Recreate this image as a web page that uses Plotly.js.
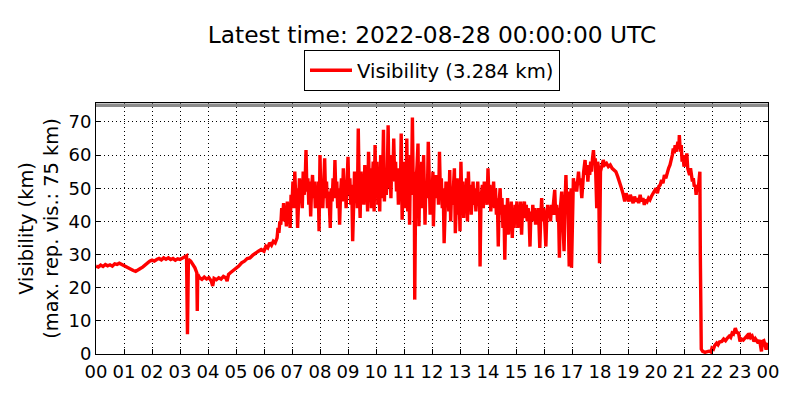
<!DOCTYPE html>
<html>
<head>
<meta charset="utf-8">
<script src="https://cdn.plot.ly/plotly-3.0.1.min.js"></script>
<style>
  html, body { margin: 0; padding: 0; background: #fff; }
  #chart { width: 800px; height: 400px; }
</style>
</head>
<body>
<div id="chart"></div>
<script>
// [minute of day, visibility km]
var nightToMorning = [
    [0,26.5],[5,26.2],[10,26.8],[15,26.4],[20,27.0],[25,26.6],[30,26.9],[35,26.5],[40,27.2],[45,27.0],
    [50,27.4],[55,27.0],[60,26.8],[65,26.3],[70,26.0],[75,25.6],[80,25.2],[85,24.9],[90,25.5],[95,25.8],
    [100,26.2],[105,26.8],[110,27.5],[115,28.0],[120,28.3],[125,28.0],[130,28.5],[135,28.8],[140,28.4],
    [145,29.0],[150,28.6],[155,29.0],[160,28.5],[165,28.8],[170,28.3],[175,28.7],[180,28.5],[185,28.9],
    [190,29.2],[194,29.6],[196,6.0],[198,28.5],[203,28.0],[208,27.0],[212,26.0],[216,24.5],[217,13.0],
    [218,24.0],[222,23.0],[227,22.5],[232,23.2],[237,22.6],[242,23.0],[247,22.0],[250,20.5],[253,22.8],
    [258,22.4],[263,23.0],[268,22.6],[273,23.4],[278,23.0],[281,22.0],[284,24.0],[288,24.5],[293,25.0],
    [298,25.5],[303,26.0],[306,26.5],[312,27.5],[318,28.0],[324,28.8],[330,29.0],[336,29.8],[342,30.5],
    [348,31.0],[354,31.5],[360,31.0],[364,32.5],[368,32.0],[372,33.5],[376,32.8],[380,34.0],[384,33.5],
    [388,35.0]
];

var morningNoisy = [
    [390,38],[392,36.5],[394,40],[396,39],[398,44],[400,41],[402,45.5],[404,40],[406,43],[408,38.5],
    [410,46],[412,41],[414,44],[416,38],[418,48],[420,45],[422,52],[424,44],[426,55],[428,47],[430,50],
    [432,38],[434,48],[436,53],[438,47],[440,49],[442,44],[444,55],[446,48],[448,51],[450,61.5],[452,49],
    [454,53],[456,45],[458,52],[460,41.5],[462,50],[464,54],[466,47],[468,52],[470,44],[472,50],[474,45],
    [476,52],[478,37],[480,60],[482,46],[484,52],[486,44],[488,50],[490,59],[492,47],[494,52],[496,44],
    [498,49],[500,45],[502,38],[504,50],[506,46],[508,53],[510,47],[512,58.5],[514,48],[516,52],[518,44],
    [520,50],[522,39],[524,48],[526,53],[528,46],[530,56],[532,47],[534,52],[536,44],[538,50],[540,59.5],
    [542,48],[544,53],[546,45],[548,51],[550,34],[552,47],[554,55],[556,46],[558,52],[560,44],[562,68],
    [564,50],[566,41],[568,55],[570,47],[572,53],[574,45],[576,57],[578,48],[580,54],[582,43],[584,61],
    [586,49],[588,56],[590,44],[592,52],[594,58],[596,43],[598,63]
];

var middayNoisy = [
    [600,48],[602,58],[604,45],[606,55],[608,43],[610,60],[612,47],[614,52],[616,67.6],[618,46],[620,56],
    [622,48],[624,53],[626,69],[628,50],[630,57],[632,47],[634,60],[636,52],[638,65],[640,53],[642,58],
    [644,49],[646,56],[648,45],[650,54],[652,47],[654,66.5],[656,40.5],[658,52],[660,46],[662,58],[664,44],
    [666,65],[668,43],[670,55],[672,39],[674,60],[676,50],[678,71.3],[680,48],[682,55],[683,16.4],[685,50],
    [688,57],[690,63.5],[692,38.5],[694,54],[696,46],[698,58],[700,44],[702,60],[704,48],[705,39],[707,52],
    [710,47],[712,64],[714,50],[716,42],[718,52],[720,46],[722,55],[723,38.5],[725,50],[728,54],[730,47],
    [732,52],[734,45],[736,61],[738,48],[740,53],[742,44],[744,50],[746,33.4],[748,49],[750,52],[752,46],
    [754,51],[756,43],[758,55.5],[760,40],[762,50],[764,45],[766,52],[768,56],[770,36.4],[772,48],[774,53],
    [776,42],[778,50],[780,37],[782,58],[784,45],[786,52],[788,41],[790,50],[792,44],[794,53],[796,40],
    [798,55],[800,46],[802,51],[804,42],[806,48],[808,52],[810,45],[812,50],[814,43],[816,49],[818,52],
    [820,45],[822,48],[823,26.4],[825,47],[828,51],[830,44],[832,52],[834,47],[836,50],[838,45],[840,56],
    [842,47],[844,51],[846,43],[848,49],[850,46],[852,52],[854,44],[856,50],[858,42],[860,47],[862,32.4],
    [864,46],[866,50],[868,42],[870,47],[872,38],[874,45],[876,28.4],[878,44],[880,41],[882,47],[884,36],
    [886,44],[888,40],[890,46],[892,35],[894,43],[896,38],[898,45]
];

var afternoon = [
    [900,42],[902,46],[904,38],[906,44],[908,40],[910,46],[912,36],[914,44],[916,42],[918,46],[920,41],
    [922,45],[924,40],[926,44],[928,41],[930,32.4],[932,43],[934,40],[936,45],[938,41],[940,44],[942,39],
    [944,43],[946,40],[948,44],[950,38],[951,32],[953,41],[955,47],[957,40],[959,44],[961,41],[964,32.4],
    [966,42],[968,45],[970,41],[972,44],[974,40],[976,45],[978,42],[980,46],[983,49.5],[985,42],[987,45],
    [989,40],[991,44],[993,29],[995,44],[998,49],[1000,43],[1003,31],[1005,45],[1007,54],[1009,44],
    [1011,49],[1014,26.4],[1016,46],[1018,50],[1019,26],[1021,48],[1023,53],[1025,50],[1028,52],[1030,49],
    [1032,53],[1034,55],[1036,51],[1038,53],[1041,47],[1043,52],[1045,55],[1048,58.5],[1050,54],[1052,57],
    [1054,52],[1056,56],[1058,54],[1060,58],[1062,55],[1064,59],[1066,61.5],[1068,57],[1070,59],[1073,44],
    [1075,58],[1077,56],[1079,27.4],[1081,55],[1084,57],[1087,58.5],[1090,57],[1094,57.5],[1098,56.5],
    [1102,57],[1106,56],[1110,55.5],[1114,55],[1118,53.5],[1122,52],[1126,50],[1130,48],[1133,46],
    [1136,48.5],[1139,47],[1142,46],[1145,48],[1148,47],[1151,45.5],[1154,47.5],[1157,46],[1160,47],
    [1163,45.5],[1166,48],[1169,46],[1172,47],[1175,45],[1178,46.5],[1181,46],[1184,47],[1187,46.5],
    [1190,47.5],[1194,48.5],[1197,49.5]
];

var evening = [
    [1200,50],[1203,48.5],[1206,50.5],[1209,51],[1212,52.5],[1215,51.5],[1218,54],[1221,53],[1224,55],
    [1227,56],[1230,57],[1233,58.5],[1235,60],[1237,62],[1239,60.5],[1241,63],[1243,61],[1245,62.5],
    [1247,64],[1249,62],[1250,66],[1252,61],[1254,63],[1256,58],[1258,60],[1260,56.5],[1262,58],[1264,57],
    [1266,60.5],[1268,56],[1270,55],[1272,54],[1274,56],[1276,53],[1278,52],[1280,53],[1282,50.5],
    [1284,51],[1286,48],[1288,51],[1290,49],[1292,52],[1294,55],[1295,30],[1296,5],[1297,1.5],[1300,0.8],
    [1305,0.5],[1310,0.7],[1315,0.9],[1318,0.6],[1320,1.8],[1323,1.5],[1326,2.6],[1330,3.3],[1333,2.8],
    [1336,3.6],[1341,3.8],[1345,4.5],[1349,4.0],[1353,4.8],[1357,5.4],[1360,5.0],[1363,6.3],[1366,6.0],
    [1370,7.8],[1373,6.5],[1377,6.3],[1380,3.8],[1383,4.5],[1387,4.2],[1391,4.8],[1395,5.5],[1398,4.6],
    [1400,6.3],[1403,5.0],[1406,5.4],[1410,3.8],[1413,4.6],[1416,4.0],[1419,3.3],[1422,4.2],[1426,0.8],
    [1428,3.8],[1431,4.0],[1434,2.5],[1436,1.3],[1438,2.8],[1440,3.284]
];

var hourLabels = ["00","01","02","03","04","05","06","07","08","09","10","11",
                  "12","13","14","15","16","17","18","19","20","21","22","23","00"];
var hourTicks = [0,1,2,3,4,5,6,7,8,9,10,11,12,13,14,15,16,17,18,19,20,21,22,23,24];
var visTicks = [0,10,20,30,40,50,60,70];
var maxReportedVis = 75;
var latestVis = 3.284;

var allObs = nightToMorning.concat(morningNoisy, middayNoisy, afternoon, evening);
var xs = allObs.map(function (p) { return p[0] / 60; });
var ys = allObs.map(function (p) { return p[1]; });

var font = "DejaVu Sans, Liberation Sans, sans-serif";

var data = [
    {
        x: xs,
        y: ys,
        type: "scatter",
        mode: "lines",
        name: "Visibility (" + latestVis.toFixed(3) + " km)",
        line: { color: "#ff0000", width: 3.4 },
        hoverinfo: "skip"
    }
];

var layout = {
    width: 800,
    height: 400,
    margin: { l: 96, r: 32, t: 103, b: 46 },
    paper_bgcolor: "#ffffff",
    plot_bgcolor: "#ffffff",
    font: { family: font, color: "#000", size: 18 },
    title: {
        text: "Latest time: 2022-08-28 00:00:00 UTC",
        font: { family: font, size: 23.3, color: "#000" },
        x: 0.5, xref: "paper", xanchor: "center",
        y: 0.913, yref: "container", yanchor: "middle"
    },
    showlegend: true,
    legend: {
        orientation: "h",
        x: 0.5, xanchor: "center",
        y: 1.048, yanchor: "bottom",
        itemwidth: 42,
        bordercolor: "#000", borderwidth: 1,
        bgcolor: "#fff",
        font: { family: font, size: 19.6, color: "#000" }
    },
    xaxis: {
        range: [0, 24],
        tickvals: hourTicks,
        ticktext: hourLabels,
        ticks: "inside", ticklen: 5, tickcolor: "#000",
        ticklabelstandoff: 1,
        showline: true, linecolor: "#000", linewidth: 1, mirror: "allticks",
        showgrid: true, gridcolor: "#000", gridwidth: 1, griddash: "1px,3px",
        zeroline: false,
        tickfont: { family: font, size: 18, color: "#000" }
    },
    yaxis: {
        range: [0, 75.7],
        tickvals: visTicks,
        ticks: "inside", ticklen: 5, tickcolor: "#000",
        showline: true, linecolor: "#000", linewidth: 1, mirror: "allticks",
        showgrid: true, gridcolor: "#000", gridwidth: 1, griddash: "1px,3px",
        zeroline: false,
        tickfont: { family: font, size: 18, color: "#000" },
        title: {
            text: "Visibility (km)<br>(max. rep. vis.: " + maxReportedVis + " km)",
            font: { family: font, size: 19.4, color: "#000" },
            standoff: 4
        }
    },
    shapes: [
        {
            type: "line", xref: "paper", x0: 0, x1: 1,
            yref: "y", y0: maxReportedVis, y1: maxReportedVis,
            line: { color: "#8c8c8c", width: 3.5 }
        }
    ]
};

Plotly.newPlot("chart", data, layout, { displayModeBar: false, staticPlot: true });
</script>
</body>
</html>
